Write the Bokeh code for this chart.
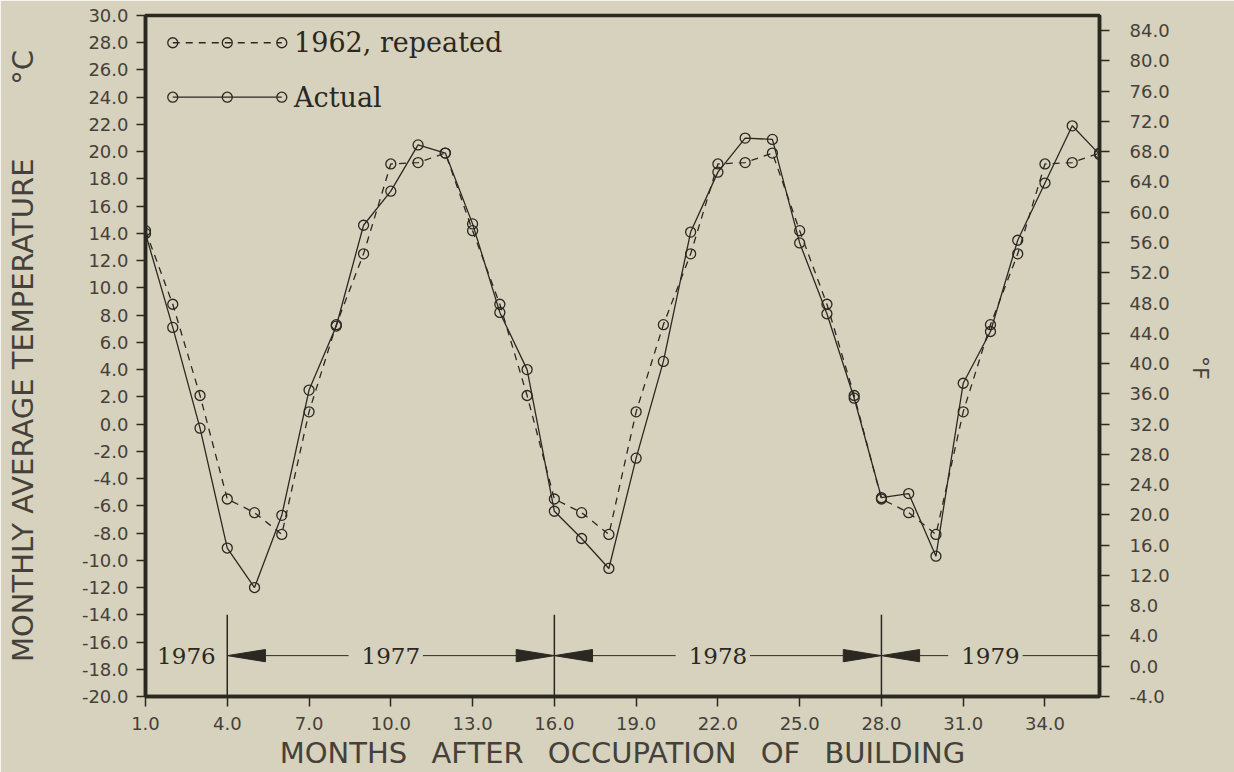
import numpy as np
from bokeh.plotting import figure
from bokeh.models import Range1d, LinearAxis, FixedTicker, PrintfTickFormatter, ColumnDataSource
from bokeh.core.properties import value
from bokeh.embed import file_html
from bokeh.resources import INLINE

# ---------------- data ----------------
months = list(range(1, 37))
temp_1962_repeated = [14.2, 8.8, 2.1, -5.5, -6.5, -8.1, 0.9, 7.3, 12.5, 19.1, 19.2, 19.9,
                      14.2, 8.8, 2.1, -5.5, -6.5, -8.1, 0.9, 7.3, 12.5, 19.1, 19.2, 19.9,
                      14.2, 8.8, 2.1, -5.5, -6.5, -8.1, 0.9, 7.3, 12.5, 19.1, 19.2, 19.9]
temp_actual = [14.0, 7.1, -0.3, -9.1, -12.0, -6.7, 2.5, 7.2, 14.6, 17.1, 20.5, 19.9,
               14.7, 8.2, 4.0, -6.4, -8.4, -10.6, -2.5, 4.6, 14.1, 18.5, 21.0, 20.9,
               13.3, 8.1, 1.9, -5.4, -5.1, -9.7, 3.0, 6.8, 13.5, 17.7, 21.9, 19.8]

series_names = ["1962, repeated", "Actual"]
year_labels = ["1976", "1977", "1978", "1979"]
year_bounds = [4, 16, 28]          # months where a new year starts

month_ticks = [1, 4, 7, 10, 13, 16, 19, 22, 25, 28, 31, 34]
celsius_ticks = list(range(-20, 31, 2))
fahrenheit_ticks = list(range(-4, 85, 4))

GAP = "\u00a0\u2009 "
x_title = GAP.join(["MONTHS", "AFTER", "OCCUPATION", "OF", "BUILDING"])
y_title = "MONTHLY AVERAGE TEMPERATURE" + "\u00a0" * 8 + "\u00b0C"
y2_title = "\u00b0F"

# ---------------- style ----------------
BG = "#d6d2bd"
INK = "#2b2822"
TICK_INK = "#45413a"
X_MIN, X_MAX = 1, 36
C_MIN, C_MAX = -20, 30

p = figure(width=1234, height=772,
           x_range=Range1d(X_MIN, X_MAX), y_range=Range1d(C_MIN, C_MAX),
           output_backend="svg", toolbar_location=None,
           min_border_left=145, min_border_right=135,
           min_border_top=15, min_border_bottom=76,
           background_fill_color=BG, border_fill_color=BG)
p.xgrid.visible = False
p.ygrid.visible = False
p.outline_line_color = INK
p.outline_line_width = 3.5

# Fahrenheit range equivalent to the Celsius range
p.extra_y_ranges = {"F": Range1d(C_MIN * 1.8 + 32, C_MAX * 1.8 + 32)}
f_axis = LinearAxis(y_range_name="F")
p.add_layout(f_axis, "right")

def style_axis(ax, ticks, standoff, tick_len):
    ax.ticker = FixedTicker(ticks=ticks)
    ax.formatter = PrintfTickFormatter(format="%.1f")
    ax.axis_line_color = INK
    ax.axis_line_width = 3.5
    ax.major_tick_line_color = INK
    ax.major_tick_line_width = 1.5
    ax.major_tick_out = tick_len
    ax.major_tick_in = 0
    ax.minor_tick_line_color = None
    ax.major_label_text_font = "DejaVu Sans"
    ax.major_label_text_font_size = "18px"
    ax.major_label_text_color = TICK_INK
    ax.major_label_standoff = standoff
    ax.axis_label_text_font = "DejaVu Sans"
    ax.axis_label_text_font_style = "normal"
    ax.axis_label_text_color = TICK_INK

style_axis(p.xaxis[0], month_ticks, 10, 10)
style_axis(p.yaxis[0], celsius_ticks, 8, 9)
style_axis(f_axis, fahrenheit_ticks, 20, 10)

p.xaxis[0].axis_label = x_title
p.xaxis[0].axis_label_text_font_size = "29px"
p.xaxis[0].axis_label_text_line_height = 0.7
p.xaxis[0].axis_label_standoff = 3

p.yaxis[0].axis_label = y_title
p.yaxis[0].axis_label_text_font_size = "29px"
p.yaxis[0].axis_label_standoff = 39

f_axis.axis_label = y2_title
f_axis.axis_label_text_font_size = "22px"
f_axis.axis_label_standoff = 28
try:
    f_axis.axis_label_orientation = -np.pi / 2
except Exception:
    pass

# ---------------- data series ----------------
src = ColumnDataSource(dict(m=months, ref=temp_1962_repeated, act=temp_actual))
p.line("m", "ref", source=src, line_color=INK, line_width=1.3, line_dash="7 6")
p.scatter("m", "ref", source=src, marker="circle", size=10, fill_color=None,
          line_color=INK, line_width=1.3)
p.line("m", "act", source=src, line_color=INK, line_width=1.3)
p.scatter("m", "act", source=src, marker="circle", size=10, fill_color=None,
          line_color=INK, line_width=1.3)

# ---------------- legend (drawn by hand) ----------------
leg_x = [2, 4, 6]
for name, yy, dash in [(series_names[0], 28, "7 6"), (series_names[1], 24, "solid")]:
    p.line(leg_x, [yy] * 3, line_color=INK, line_width=1.3, line_dash=dash)
    p.scatter(leg_x, [yy] * 3, marker="circle", size=10, fill_color=None,
              line_color=INK, line_width=1.3)
    p.text(x=[6.45], y=[yy], text=[name], text_font=value("DejaVu Serif"),
           text_font_size="27px", text_color=INK, text_align="left",
           text_baseline="middle")

# ---------------- year annotation ----------------
y_arrow = -17.0
arrow_len = 1.4
arrow_half = 0.45
starts = [X_MIN] + year_bounds
ends = year_bounds + [X_MAX]
centers = [(a + b) / 2 for a, b in zip(starts, ends)]

p.segment(x0=year_bounds, y0=[C_MIN] * len(year_bounds),
          x1=year_bounds, y1=[-14.0] * len(year_bounds),
          line_color=INK, line_width=1.5)

xs, ys = [], []
for b in year_bounds:
    xs.append([b, b + arrow_len, b + arrow_len])
    ys.append([y_arrow, y_arrow + arrow_half, y_arrow - arrow_half])
for b in year_bounds[1:]:
    xs.append([b, b - arrow_len, b - arrow_len])
    ys.append([y_arrow, y_arrow + arrow_half, y_arrow - arrow_half])
p.patches(xs, ys, fill_color=INK, line_color=INK, line_width=1)

sx0, sx1 = [], []
for s, e, c in zip(starts, ends, centers):
    if s == X_MIN:
        continue
    left0 = s + arrow_len
    right1 = e - arrow_len if e in year_bounds else e
    sx0 += [left0, c + 1.18]
    sx1 += [c - 1.55, right1]
p.segment(x0=sx0, y0=[y_arrow] * len(sx0), x1=sx1, y1=[y_arrow] * len(sx1),
          line_color=INK, line_width=1)

p.text(x=centers, y=[y_arrow] * len(centers), text=year_labels,
       text_font=value("DejaVu Serif"), text_font_size="23px", text_color=INK,
       text_align="center", text_baseline="middle")

open("out.html", "w").write(file_html(p, INLINE))
